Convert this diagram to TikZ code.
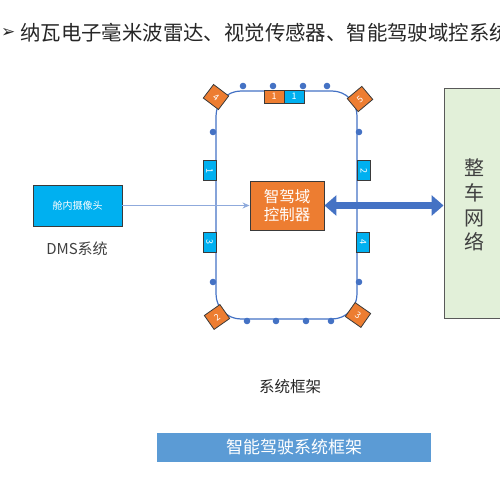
\documentclass[tikz,border=0pt]{standalone}
\usepackage{fontspec}
\setmainfont{Noto Sans CJK SC}
\newfontfamily\symfont{DejaVu Sans}
\usetikzlibrary{arrows.meta}
\definecolor{corange}{HTML}{ED7D31}
\definecolor{ccyan}{HTML}{00B0F0}
\definecolor{cblue}{HTML}{4472C4}
\definecolor{clight}{HTML}{8FAADC}
\definecolor{cgreen}{HTML}{E2F0D9}
\definecolor{cbar}{HTML}{5B9BD5}
\definecolor{ctext}{HTML}{262626}
\definecolor{cborder}{HTML}{3A3A3A}
\tikzset{
  dot/.style={circle,fill=cblue,inner sep=0pt,minimum size=6.6pt},
  sidebox/.style={draw=cborder,line width=0.8pt,fill=ccyan,text=white,inner sep=0pt,minimum width=13pt,minimum height=20pt,font=\fontsize{9}{9}\selectfont},
  topbox/.style={draw=cborder,line width=0.8pt,text=white,inner sep=0pt,minimum width=20pt,minimum height=13pt,font=\fontsize{9}{9}\selectfont},
  radar/.style={draw=cborder,line width=0.8pt,fill=corange,text=white,inner sep=0pt,minimum width=19pt,minimum height=17pt,font=\fontsize{9}{9}\selectfont},
  lbl/.style={text=ctext,inner sep=0pt}
}
\begin{document}
\begin{tikzpicture}[x=1pt,y=-1pt]
\useasboundingbox (0,0) rectangle (500,500);
% title
\node[anchor=west,inner sep=0pt,text=ctext,font=\symfont\fontsize{17}{17}\selectfont] (bullet) at (1,33) {➢};
\node[anchor=west,inner sep=0pt,text=ctext,font=\fontsize{20.4}{20.4}\selectfont] (title) at (20,33) {纳瓦电子毫米波雷达、视觉传感器、智能驾驶域控系统};
% frame
\draw[cblue,line width=1.2pt,rounded corners=25pt] (216,91) rectangle (357,319);
\coordinate (frame) at (286.5,205);
% dots
\foreach \x/\n in {243/t1,273/t2,303/t3,327/t4}{\node[dot] (\n) at (\x,86) {};}
\foreach \x/\n in {247/b1,276/b2,306/b3,331/b4}{\node[dot] (\n) at (\x,321) {};}
\node[dot] (l1) at (213,132) {};
\node[dot] (l2) at (213,282) {};
\node[dot] (r1) at (359,132) {};
\node[dot] (r2) at (359,282) {};
% side cameras
\node[sidebox] (c1) at (209.5,170.5) {\rotatebox{-90}{1}};
\node[sidebox] (c3) at (209.5,242) {\rotatebox{-90}{3}};
\node[sidebox] (c2) at (364,170.5) {\rotatebox{-90}{2}};
\node[sidebox] (c4) at (363,242) {\rotatebox{-90}{4}};
% top front boxes
\node[topbox,fill=corange] (f1) at (274,96.5) {1};
\node[topbox,fill=ccyan] (f2) at (294,96.5) {1};
% corner radars
\node[radar,rotate=-37] (rd4) at (216,97) {4};
\node[radar,rotate=40] (rd5) at (360,99) {5};
\node[radar,rotate=35] (rd2) at (217,317) {2};
\node[radar,rotate=-35] (rd3) at (358,315) {3};
% controller
\node[draw=cborder,line width=0.9pt,fill=corange,text=white,minimum width=74pt,minimum height=49pt,inner sep=0pt,align=center,font=\fontsize{15.5}{18.5}\selectfont] (ctrl) at (287,205.5) {智驾域\\控制器};
% DMS
\node[draw=cborder,line width=0.9pt,fill=ccyan,text=white,minimum width=89pt,minimum height=41pt,inner sep=0pt,font=\fontsize{10}{10}\selectfont] (dms) at (77.5,205.5) {舱内摄像头};
\node[lbl,font=\fontsize{15}{15}\selectfont,text=black!75] (dmslbl) at (77,249) {DMS系统};
\draw[clight,line width=0.8pt,-{Stealth[length=7pt,width=6pt]}] (dms.east) -- (ctrl.west);
% vehicle network
\node[draw=black!65,line width=0.9pt,fill=cgreen,minimum width=60pt,minimum height=230pt,inner sep=0pt] (net) at (474,203) {};
\node[lbl,align=center,font=\fontsize{20}{24.7}\selectfont,text=black!75] (netlbl) at (474,205) {整\\车\\网\\络};
\draw[cblue,line width=7pt,{Triangle[length=12pt,width=20pt]}-{Triangle[length=12pt,width=20pt]}] (ctrl.east) -- (net.west |- ctrl.east);
% labels
\node[lbl,font=\fontsize{15.5}{15.5}\selectfont] (frlbl) at (290,387) {系统框架};
\node[fill=cbar,text=white,minimum width=274pt,minimum height=29pt,inner sep=0pt,font=\fontsize{17}{17}\selectfont] (bar) at (294,447.5) {智能驾驶系统框架};
\end{tikzpicture}
\end{document}
